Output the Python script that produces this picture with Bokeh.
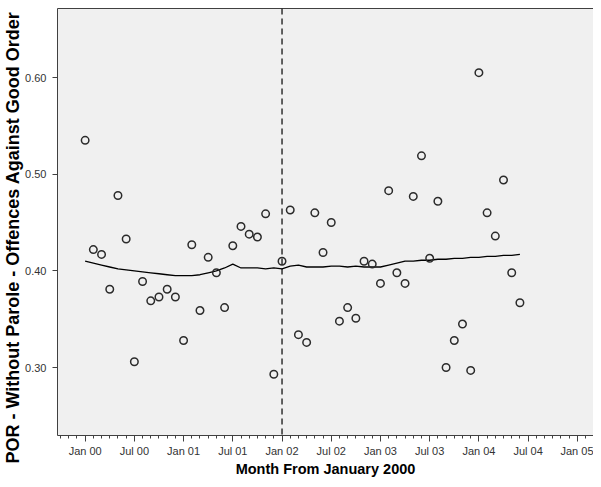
from bokeh.plotting import figure
from bokeh.models import FixedTicker, Span, LinearAxis, Range1d, Title
from bokeh.embed import file_html
from bokeh.resources import INLINE

# ---- data ----
months = list(range(54))
values = [0.535, 0.422, 0.417, 0.381, 0.478, 0.433, 0.306, 0.389, 0.369, 0.373,
          0.381, 0.373, 0.328, 0.427, 0.359, 0.414, 0.398, 0.362, 0.426, 0.446,
          0.438, 0.435, 0.459, 0.293, 0.410, 0.463, 0.334, 0.326, 0.460, 0.419,
          0.450, 0.348, 0.362, 0.351, 0.410, 0.407, 0.387, 0.483, 0.398, 0.387,
          0.477, 0.519, 0.413, 0.472, 0.300, 0.328, 0.345, 0.297, 0.605, 0.460,
          0.436, 0.494, 0.398, 0.367]
smooth = [0.410, 0.408, 0.406, 0.404, 0.402, 0.401, 0.400, 0.399, 0.398, 0.397,
          0.396, 0.395, 0.395, 0.395, 0.396, 0.398, 0.400, 0.403, 0.407, 0.403,
          0.403, 0.403, 0.402, 0.403, 0.402, 0.405, 0.406, 0.404, 0.404, 0.404,
          0.405, 0.405, 0.404, 0.405, 0.404, 0.404, 0.404, 0.406, 0.408, 0.410,
          0.410, 0.411, 0.411, 0.412, 0.412, 0.413, 0.413, 0.414, 0.414, 0.415,
          0.415, 0.416, 0.416, 0.417]
tick_months = [0, 6, 12, 18, 24, 30, 36, 42, 48, 54, 60]
tick_labels = ["Jan 00", "Jul 00", "Jan 01", "Jul 01", "Jan 02", "Jul 02",
               "Jan 03", "Jul 03", "Jan 04", "Jul 04", "Jan 05"]
minor_months = list(range(-3, 62))
y_ticks = [0.30, 0.40, 0.50, 0.60]
y_tick_labels = ["0.30", "0.40", "0.50", "0.60"]
intervention_month = 24
x_title = "Month From January 2000"
y_title = "POR - Without Parole - Offences Against Good Order"

FONT = "Liberation Sans"

p = figure(width=593, height=479, output_backend="svg", toolbar_location=None,
           x_range=Range1d(-3.37, 61.97), y_range=Range1d(0.2297, 0.6714),
           min_border_left=53, min_border_right=0, min_border_top=8,
           min_border_bottom=44,
           background_fill_color="#f0f0f0", border_fill_color="white",
           outline_line_color=None)
p.grid.visible = False

# x axis
xa = p.xaxis[0]
xa.ticker = FixedTicker(ticks=tick_months, minor_ticks=minor_months)
xa.major_label_overrides = {m: l for m, l in zip(tick_months, tick_labels)}
xa.axis_label = x_title
xa.major_tick_out = 6
xa.major_tick_in = 0
xa.minor_tick_out = 3
xa.minor_tick_in = 0
xa.major_label_standoff = 3
xa.axis_label_standoff = 1

# y axis
ya = p.yaxis[0]
ya.ticker = FixedTicker(ticks=y_ticks, minor_ticks=[])
ya.major_label_overrides = {t: l for t, l in zip(y_ticks, y_tick_labels)}
ya.major_tick_out = 5
ya.major_tick_in = 0
ya.minor_tick_out = 0
ya.minor_tick_in = 0
ya.major_label_standoff = 6

for ax in (xa, ya):
    ax.axis_line_color = "#404040"
    ax.major_tick_line_color = "#404040"
    ax.minor_tick_line_color = "#404040"
    ax.major_label_text_font = FONT
    ax.major_label_text_font_size = "11px"
    ax.major_label_text_color = "#333333"
    ax.axis_label_text_font = FONT
    ax.axis_label_text_font_style = "bold"
    ax.axis_label_text_color = "black"
xa.axis_label_text_font_size = "14.5px"

# y axis title as a side title so that it can be placed along the axis
yt = Title(text=y_title, align="left", offset=-28, standoff=0,
           text_font=FONT, text_font_style="bold", text_font_size="18px",
           text_color="black")
p.add_layout(yt, "left")

# top border line
top = LinearAxis(ticker=FixedTicker(ticks=[]), major_label_text_font_size="0px",
                 major_tick_out=0, major_tick_in=0, minor_tick_out=0, minor_tick_in=0,
                 major_label_standoff=0, axis_line_color="#404040")
p.add_layout(top, "above")

p.add_layout(Span(location=intervention_month, dimension="height",
                  line_color="black", line_width=1.2, line_dash="6 4"))

p.line(months, smooth, line_color="black", line_width=1.3)
p.scatter(months, values, marker="circle", size=7.5, fill_color=None,
          line_color="#2b2b2b", line_width=1.5)

open("out.html", "w").write(file_html(p, INLINE))
